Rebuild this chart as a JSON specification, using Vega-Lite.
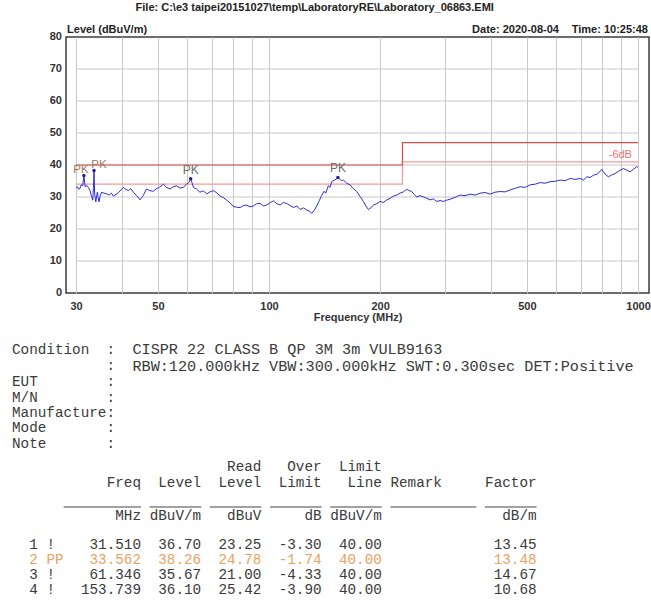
{
  "$schema": "https://vega.github.io/schema/vega-lite/v6.json",
  "width": 583,
  "height": 256,
  "autosize": {"type": "none"},
  "padding": {"left": 66, "top": 37, "right": 2, "bottom": 313},
  "background": "white",
  "config": {"view": {"stroke": "#3c3c3c", "strokeWidth": 1.5}, "font": "Liberation Sans"},
  "datasets": {
    "hgrid": [{"level": 10}, {"level": 20}, {"level": 30}, {"level": 40}, {"level": 50}, {"level": 60}, {"level": 70}],
    "limit": [{"freq": 30, "level": 40}, {"freq": 230, "level": 47}, {"freq": 1000, "level": 47}],
    "margin": [{"freq": 30, "level": 34}, {"freq": 230, "level": 41}, {"freq": 1000, "level": 41}],
    "trace": [
      {"freq": 30.0, "level": 33.0}, {"freq": 30.24, "level": 33.2}, {"freq": 30.5, "level": 32.4}, {"freq": 30.76, "level": 32.7},
      {"freq": 31.0, "level": 33.8}, {"freq": 31.28, "level": 33.5}, {"freq": 31.51, "level": 36.7}, {"freq": 31.75, "level": 33.2},
      {"freq": 32.1, "level": 33.6}, {"freq": 32.4, "level": 33.0}, {"freq": 32.74, "level": 32.0}, {"freq": 33.0, "level": 30.5},
      {"freq": 33.3, "level": 29.0}, {"freq": 33.45, "level": 33.0}, {"freq": 33.562, "level": 38.26}, {"freq": 33.7, "level": 31.0},
      {"freq": 33.93, "level": 28.5}, {"freq": 34.1, "level": 30.0}, {"freq": 34.27, "level": 31.5}, {"freq": 34.45, "level": 29.8},
      {"freq": 34.62, "level": 28.5}, {"freq": 34.9, "level": 30.5}, {"freq": 35.21, "level": 31.5}, {"freq": 35.7, "level": 31.2},
      {"freq": 36.33, "level": 31.0}, {"freq": 36.9, "level": 30.6}, {"freq": 37.4, "level": 31.2}, {"freq": 37.86, "level": 30.3},
      {"freq": 38.5, "level": 30.8}, {"freq": 39.06, "level": 31.3}, {"freq": 39.7, "level": 32.2}, {"freq": 40.31, "level": 33.0},
      {"freq": 40.9, "level": 32.4}, {"freq": 41.59, "level": 32.0}, {"freq": 42.2, "level": 32.6}, {"freq": 42.9, "level": 31.5},
      {"freq": 43.8, "level": 30.4}, {"freq": 44.73, "level": 29.1}, {"freq": 45.2, "level": 29.8}, {"freq": 45.67, "level": 30.5},
      {"freq": 46.1, "level": 31.6}, {"freq": 46.62, "level": 32.5}, {"freq": 47.5, "level": 32.0}, {"freq": 48.6, "level": 31.8},
      {"freq": 49.5, "level": 32.6}, {"freq": 50.5, "level": 33.0}, {"freq": 51.74, "level": 34.0}, {"freq": 52.8, "level": 33.0},
      {"freq": 53.9, "level": 32.5}, {"freq": 55.0, "level": 33.2}, {"freq": 56.2, "level": 33.5}, {"freq": 57.4, "level": 32.8},
      {"freq": 58.6, "level": 33.0}, {"freq": 59.8, "level": 34.0}, {"freq": 60.6, "level": 34.5}, {"freq": 61.346, "level": 35.67},
      {"freq": 62.0, "level": 34.2}, {"freq": 62.4, "level": 33.0}, {"freq": 63.6, "level": 32.5}, {"freq": 65.0, "level": 31.5},
      {"freq": 66.4, "level": 31.9}, {"freq": 67.8, "level": 31.0}, {"freq": 69.2, "level": 31.6}, {"freq": 70.7, "level": 32.0},
      {"freq": 72.2, "level": 31.3}, {"freq": 73.7, "level": 30.3}, {"freq": 75.2, "level": 29.8}, {"freq": 76.8, "level": 29.0},
      {"freq": 78.4, "level": 28.2}, {"freq": 80.1, "level": 27.0}, {"freq": 81.8, "level": 26.8}, {"freq": 83.5, "level": 26.7},
      {"freq": 85.2, "level": 27.3}, {"freq": 87.0, "level": 27.5}, {"freq": 88.8, "level": 26.9}, {"freq": 90.7, "level": 27.2},
      {"freq": 92.6, "level": 27.9}, {"freq": 94.6, "level": 28.0}, {"freq": 96.6, "level": 27.2}, {"freq": 98.6, "level": 27.5},
      {"freq": 100.7, "level": 28.2}, {"freq": 102.8, "level": 28.8}, {"freq": 105.0, "level": 27.9}, {"freq": 107.2, "level": 27.5},
      {"freq": 109.4, "level": 28.3}, {"freq": 111.7, "level": 28.0}, {"freq": 114.1, "level": 27.3}, {"freq": 116.5, "level": 26.7},
      {"freq": 119.0, "level": 27.2}, {"freq": 121.4, "level": 26.1}, {"freq": 124.0, "level": 26.6}, {"freq": 126.6, "level": 25.9},
      {"freq": 128.6, "level": 25.6}, {"freq": 130.6, "level": 24.9}, {"freq": 132.6, "level": 25.8}, {"freq": 134.7, "level": 27.2},
      {"freq": 136.8, "level": 28.8}, {"freq": 139.0, "level": 30.5}, {"freq": 141.0, "level": 31.8}, {"freq": 142.5, "level": 31.2},
      {"freq": 144.8, "level": 33.5}, {"freq": 146.4, "level": 33.0}, {"freq": 147.9, "level": 34.8}, {"freq": 150.5, "level": 35.3},
      {"freq": 152.5, "level": 35.6}, {"freq": 153.739, "level": 36.1}, {"freq": 155.5, "level": 35.6}, {"freq": 157.3, "level": 35.1},
      {"freq": 159.1, "level": 35.3}, {"freq": 162.4, "level": 34.3}, {"freq": 165.8, "level": 33.8}, {"freq": 169.3, "level": 32.6},
      {"freq": 172.9, "level": 31.7}, {"freq": 176.5, "level": 30.2}, {"freq": 180.2, "level": 28.6}, {"freq": 183.0, "level": 27.2},
      {"freq": 185.9, "level": 26.1}, {"freq": 188.8, "level": 26.6}, {"freq": 191.8, "level": 27.5}, {"freq": 195.9, "level": 27.9},
      {"freq": 200.0, "level": 28.6}, {"freq": 204.2, "level": 28.3}, {"freq": 208.5, "level": 29.1}, {"freq": 212.9, "level": 29.6},
      {"freq": 217.3, "level": 30.3}, {"freq": 221.9, "level": 30.6}, {"freq": 226.5, "level": 31.2}, {"freq": 231.3, "level": 31.6},
      {"freq": 236.2, "level": 32.4}, {"freq": 239.9, "level": 32.0}, {"freq": 243.7, "level": 31.7}, {"freq": 247.5, "level": 30.8},
      {"freq": 251.4, "level": 30.0}, {"freq": 256.7, "level": 30.4}, {"freq": 262.1, "level": 30.0}, {"freq": 267.6, "level": 29.6},
      {"freq": 273.2, "level": 29.1}, {"freq": 279.0, "level": 29.4}, {"freq": 284.8, "level": 28.6}, {"freq": 290.8, "level": 28.9},
      {"freq": 296.9, "level": 28.6}, {"freq": 303.1, "level": 29.0}, {"freq": 309.5, "level": 29.3}, {"freq": 319.3, "level": 29.9},
      {"freq": 329.4, "level": 30.6}, {"freq": 339.8, "level": 30.4}, {"freq": 350.6, "level": 30.9}, {"freq": 361.7, "level": 30.6},
      {"freq": 373.2, "level": 31.2}, {"freq": 385.0, "level": 31.4}, {"freq": 397.3, "level": 30.9}, {"freq": 409.8, "level": 31.5},
      {"freq": 422.9, "level": 31.7}, {"freq": 436.3, "level": 31.6}, {"freq": 450.2, "level": 32.2}, {"freq": 464.5, "level": 32.7},
      {"freq": 479.2, "level": 33.2}, {"freq": 494.4, "level": 33.0}, {"freq": 510.1, "level": 33.8}, {"freq": 526.2, "level": 34.0},
      {"freq": 542.9, "level": 34.5}, {"freq": 560.1, "level": 34.3}, {"freq": 577.9, "level": 34.8}, {"freq": 596.2, "level": 34.9},
      {"freq": 615.1, "level": 35.3}, {"freq": 634.6, "level": 35.1}, {"freq": 654.7, "level": 35.8}, {"freq": 675.4, "level": 35.5},
      {"freq": 696.9, "level": 35.8}, {"freq": 711.3, "level": 35.3}, {"freq": 726.2, "level": 36.3}, {"freq": 741.4, "level": 36.1},
      {"freq": 756.9, "level": 36.8}, {"freq": 777.0, "level": 37.2}, {"freq": 797.4, "level": 38.6}, {"freq": 814.0, "level": 37.2},
      {"freq": 831.2, "level": 36.3}, {"freq": 848.6, "level": 36.9}, {"freq": 866.4, "level": 37.3}, {"freq": 889.3, "level": 38.2},
      {"freq": 912.8, "level": 38.9}, {"freq": 932.0, "level": 38.4}, {"freq": 951.5, "level": 37.9}, {"freq": 971.5, "level": 38.6},
      {"freq": 992.0, "level": 39.5}, {"freq": 1000.0, "level": 39.3}
    ],
    "peaks": [
      {"freq": 31.51, "level": 36.70, "label": "PK"},
      {"freq": 33.562, "level": 38.26, "label": "PK"},
      {"freq": 61.346, "level": 35.67, "label": "PK"},
      {"freq": 153.739, "level": 36.10, "label": "PK"}
    ],
    "yticks": [{"level": 0}, {"level": 10}, {"level": 20}, {"level": 30}, {"level": 40}, {"level": 50}, {"level": 60}, {"level": 70}, {"level": 80}],
    "headL": [
      {"line": -20.9, "col": 6.4, "text": "Level (dBuV/m)"}
    ],
    "headC": [
      {"line": -22.35, "col": 35.2, "text": "File: C:\\e3 taipei20151027\\temp\\LaboratoryRE\\Laboratory_06863.EMI"}
    ],
    "headR": [
      {"line": -20.9, "col": 63.6, "text": "Date: 2020-08-04"},
      {"line": -20.9, "col": 73.95, "text": "Time: 10:25:48"}
    ],
    "cond": [
      {"line": -0.05, "col": 14, "text": "CISPR 22 CLASS B QP 3M 3m VULB9163"},
      {"line": 1.07, "col": 14, "text": "RBW:120.000kHz VBW:300.000kHz SWT:0.300sec DET:Positive"}
    ],
    "monoL": [
      {"line": 0, "col": 0, "text": "Condition"}, {"line": 0, "col": 11, "text": ":"},
      {"line": 1.05, "col": 11, "text": ":"},
      {"line": 2.09, "col": 0, "text": "EUT"}, {"line": 2.09, "col": 11, "text": ":"},
      {"line": 3.14, "col": 0, "text": "M/N"}, {"line": 3.14, "col": 11, "text": ":"},
      {"line": 4.12, "col": 0, "text": "Manufacture:"},
      {"line": 5.1, "col": 0, "text": "Mode"}, {"line": 5.1, "col": 11, "text": ":"},
      {"line": 6.14, "col": 0, "text": "Note"}, {"line": 6.14, "col": 11, "text": ":"},
      {"line": 8.69, "col": 44, "text": "Remark"},
      {"line": 12.75, "col": 2, "text": "1"}, {"line": 12.75, "col": 4, "text": "!"},
      {"line": 13.73, "col": 2, "text": "2"}, {"line": 13.73, "col": 4, "text": "PP"},
      {"line": 14.71, "col": 2, "text": "3"}, {"line": 14.71, "col": 4, "text": "!"},
      {"line": 15.69, "col": 2, "text": "4"}, {"line": 15.69, "col": 4, "text": "!"}
    ],
    "monoR": [
      {"line": 7.65, "col": 29, "text": "Read"}, {"line": 7.65, "col": 36, "text": "Over"}, {"line": 7.65, "col": 43, "text": "Limit"},
      {"line": 8.69, "col": 15, "text": "Freq"}, {"line": 8.69, "col": 22, "text": "Level"}, {"line": 8.69, "col": 29, "text": "Level"},
      {"line": 8.69, "col": 36, "text": "Limit"}, {"line": 8.69, "col": 43, "text": "Line"}, {"line": 8.69, "col": 61, "text": "Factor"},
      {"line": 10.85, "col": 15, "text": "MHz"}, {"line": 10.85, "col": 22, "text": "dBuV/m"}, {"line": 10.85, "col": 29, "text": "dBuV"},
      {"line": 10.85, "col": 36, "text": "dB"}, {"line": 10.85, "col": 43, "text": "dBuV/m"}, {"line": 10.85, "col": 61, "text": "dB/m"},
      {"line": 12.75, "col": 15, "text": "31.510"}, {"line": 12.75, "col": 22, "text": "36.70"}, {"line": 12.75, "col": 29, "text": "23.25"},
      {"line": 12.75, "col": 36, "text": "-3.30"}, {"line": 12.75, "col": 43, "text": "40.00"}, {"line": 12.75, "col": 61, "text": "13.45"},
      {"line": 13.73, "col": 15, "text": "33.562"}, {"line": 13.73, "col": 22, "text": "38.26"}, {"line": 13.73, "col": 29, "text": "24.78"},
      {"line": 13.73, "col": 36, "text": "-1.74"}, {"line": 13.73, "col": 43, "text": "40.00"}, {"line": 13.73, "col": 61, "text": "13.48"},
      {"line": 14.71, "col": 15, "text": "61.346"}, {"line": 14.71, "col": 22, "text": "35.67"}, {"line": 14.71, "col": 29, "text": "21.00"},
      {"line": 14.71, "col": 36, "text": "-4.33"}, {"line": 14.71, "col": 43, "text": "40.00"}, {"line": 14.71, "col": 61, "text": "14.67"},
      {"line": 15.69, "col": 15, "text": "153.739"}, {"line": 15.69, "col": 22, "text": "36.10"}, {"line": 15.69, "col": 29, "text": "25.42"},
      {"line": 15.69, "col": 36, "text": "-3.90"}, {"line": 15.69, "col": 43, "text": "40.00"}, {"line": 15.69, "col": 61, "text": "10.68"}
    ],
    "underlines": [
      {"line": 10.26, "col": 6, "col2": 15}, {"line": 10.26, "col": 16, "col2": 22}, {"line": 10.26, "col": 23, "col2": 29},
      {"line": 10.26, "col": 30, "col2": 36}, {"line": 10.26, "col": 37, "col2": 43}, {"line": 10.26, "col": 44, "col2": 54},
      {"line": 10.26, "col": 55, "col2": 61}
    ]
  },
  "layer": [
    {
      "layer": [
        {
          "data": {"name": "hgrid"},
          "mark": {"type": "rule", "color": "#c8c8c8", "strokeWidth": 1},
          "encoding": {
            "x": {
              "datum": 30, "type": "quantitative",
              "scale": {"type": "log", "domain": [28.18, 1071], "nice": false},
              "axis": {
                "values": [30, 40, 50, 60, 70, 80, 90, 100, 200, 300, 400, 500, 600, 700, 800, 900, 1000],
                "format": "d",
                "labelExpr": "indexof([30,50,100,200,500,1000], datum.value) >= 0 ? datum.label : ''",
                "grid": true, "gridColor": "#c8c8c8", "gridWidth": 1,
                "ticks": false, "domain": false,
                "labelFont": "Liberation Sans", "labelFontWeight": "bold", "labelFontSize": 11, "labelColor": "#333333",
                "labelPadding": 7, "labelOverlap": false, "labelFlush": false,
                "title": "Frequency (MHz)", "titleFont": "Liberation Sans", "titleFontSize": 11, "titleFontWeight": "bold",
                "titleColor": "#333333", "titlePadding": 0
              }
            },
            "x2": {"datum": 1000},
            "y": {
              "field": "level", "type": "quantitative",
              "scale": {"domain": [0, 80], "nice": false},
              "axis": null
            }
          }
        },
        {
          "data": {"name": "yticks"},
          "mark": {"type": "text", "font": "Liberation Sans", "fontWeight": "bold", "fontSize": 11, "align": "right", "baseline": "middle", "color": "#333333", "dx": -4},
          "encoding": {
            "x": {"datum": 28.18, "type": "quantitative"},
            "y": {"field": "level", "type": "quantitative", "axis": null},
            "text": {"field": "level", "type": "quantitative"}
          }
        },
        {
          "data": {"name": "margin"},
          "mark": {"type": "line", "interpolate": "step-after", "color": "#f29a9a", "strokeWidth": 1.2},
          "encoding": {
            "x": {"field": "freq", "type": "quantitative"},
            "y": {"field": "level", "type": "quantitative", "axis": null}
          }
        },
        {
          "data": {"name": "limit"},
          "mark": {"type": "line", "interpolate": "step-after", "color": "#e24a4a", "strokeWidth": 1.2},
          "encoding": {
            "x": {"field": "freq", "type": "quantitative"},
            "y": {"field": "level", "type": "quantitative", "axis": null}
          }
        },
        {
          "data": {"name": "trace"},
          "mark": {"type": "line", "color": "#2e2ed2", "strokeWidth": 1},
          "encoding": {
            "x": {"field": "freq", "type": "quantitative"},
            "y": {"field": "level", "type": "quantitative", "axis": null}
          }
        },
        {
          "data": {"name": "peaks"},
          "mark": {"type": "point", "filled": true, "size": 12, "color": "#1c1c9a", "opacity": 1},
          "encoding": {
            "x": {"field": "freq", "type": "quantitative"},
            "y": {"field": "level", "type": "quantitative", "axis": null}
          }
        },
        {
          "data": {"name": "peaks"},
          "transform": [{"filter": "datum.freq < 32"}],
          "mark": {"type": "text", "font": "Liberation Sans", "fontSize": 11.5, "align": "center", "baseline": "bottom", "dy": -1, "dx": -3, "color": "#9c7a58"},
          "encoding": {
            "x": {"field": "freq", "type": "quantitative"},
            "y": {"field": "level", "type": "quantitative", "axis": null},
            "text": {"field": "label"}
          }
        },
        {
          "data": {"name": "peaks"},
          "transform": [{"filter": "datum.freq > 33 && datum.freq < 34"}],
          "mark": {"type": "text", "font": "Liberation Sans", "fontSize": 11.5, "align": "center", "baseline": "bottom", "dy": -1, "dx": 5, "color": "#9c7a58"},
          "encoding": {
            "x": {"field": "freq", "type": "quantitative"},
            "y": {"field": "level", "type": "quantitative", "axis": null},
            "text": {"field": "label"}
          }
        },
        {
          "data": {"name": "peaks"},
          "transform": [{"filter": "datum.freq > 40"}],
          "mark": {"type": "text", "font": "Liberation Sans", "fontSize": 12, "align": "center", "baseline": "bottom", "dy": -2, "color": "#6e6e6e"},
          "encoding": {
            "x": {"field": "freq", "type": "quantitative"},
            "y": {"field": "level", "type": "quantitative", "axis": null},
            "text": {"field": "label"}
          }
        },
        {
          "data": {"values": [{"label": "-6dB"}]},
          "mark": {"type": "text", "font": "Liberation Sans", "fontSize": 11, "align": "right", "baseline": "middle", "color": "#f07070"},
          "encoding": {
            "x": {"datum": 963, "type": "quantitative"},
            "y": {"datum": 43.1, "type": "quantitative", "axis": null},
            "text": {"field": "label"}
          }
        }
      ]
    },
    {
      "layer": [
        {
          "data": {"name": "underlines"},
          "mark": {"type": "rule", "color": "#444444", "strokeWidth": 1},
          "encoding": {
            "x": {"field": "col", "type": "quantitative", "scale": {"domain": [6.279, 74.07], "nice": false, "zero": false}, "axis": null},
            "x2": {"field": "col2"},
            "y": {"field": "line", "type": "quantitative", "scale": {"domain": [-20.458, -3.726], "nice": false, "zero": false, "reverse": true}, "axis": null}
          }
        },
        {
          "data": {"name": "cond"},
          "mark": {"type": "text", "font": "Liberation Mono", "fontSize": 15.2, "align": "left", "baseline": "middle", "color": "#3a3a3a"},
          "encoding": {
            "x": {"field": "col", "type": "quantitative", "scale": {"domain": [6.279, 74.07], "nice": false, "zero": false}, "axis": null},
            "y": {"field": "line", "type": "quantitative", "scale": {"domain": [-20.458, -3.726], "nice": false, "zero": false, "reverse": true}, "axis": null},
            "text": {"field": "text"}
          }
        },
        {
          "data": {"name": "monoL"},
          "mark": {"type": "text", "font": "Liberation Mono", "fontSize": 14.3, "align": "left", "baseline": "middle"},
          "encoding": {
            "x": {"field": "col", "type": "quantitative", "scale": {"domain": [6.279, 74.07], "nice": false, "zero": false}, "axis": null},
            "y": {"field": "line", "type": "quantitative", "scale": {"domain": [-20.458, -3.726], "nice": false, "zero": false, "reverse": true}, "axis": null},
            "text": {"field": "text"},
            "color": {"condition": {"test": "datum.line == 13.73", "value": "#eaa262"}, "value": "#3a3a3a"}
          }
        },
        {
          "data": {"name": "monoR"},
          "mark": {"type": "text", "font": "Liberation Mono", "fontSize": 14.3, "align": "right", "baseline": "middle"},
          "encoding": {
            "x": {"field": "col", "type": "quantitative", "scale": {"domain": [6.279, 74.07], "nice": false, "zero": false}, "axis": null},
            "y": {"field": "line", "type": "quantitative", "scale": {"domain": [-20.458, -3.726], "nice": false, "zero": false, "reverse": true}, "axis": null},
            "text": {"field": "text"},
            "color": {"condition": {"test": "datum.line == 13.73", "value": "#eaa262"}, "value": "#3a3a3a"}
          }
        },
        {
          "data": {"name": "headL"},
          "mark": {"type": "text", "font": "Liberation Sans", "fontSize": 11, "fontWeight": "bold", "align": "left", "baseline": "middle", "color": "#222222"},
          "encoding": {
            "x": {"field": "col", "type": "quantitative", "scale": {"domain": [6.279, 74.07], "nice": false, "zero": false}, "axis": null},
            "y": {"field": "line", "type": "quantitative", "scale": {"domain": [-20.458, -3.726], "nice": false, "zero": false, "reverse": true}, "axis": null},
            "text": {"field": "text"}
          }
        },
        {
          "data": {"name": "headC"},
          "mark": {"type": "text", "font": "Liberation Sans", "fontSize": 11, "fontWeight": "bold", "align": "center", "baseline": "middle", "color": "#222222"},
          "encoding": {
            "x": {"field": "col", "type": "quantitative", "scale": {"domain": [6.279, 74.07], "nice": false, "zero": false}, "axis": null},
            "y": {"field": "line", "type": "quantitative", "scale": {"domain": [-20.458, -3.726], "nice": false, "zero": false, "reverse": true}, "axis": null},
            "text": {"field": "text"}
          }
        },
        {
          "data": {"name": "headR"},
          "mark": {"type": "text", "font": "Liberation Sans", "fontSize": 11, "fontWeight": "bold", "align": "right", "baseline": "middle", "color": "#222222"},
          "encoding": {
            "x": {"field": "col", "type": "quantitative", "scale": {"domain": [6.279, 74.07], "nice": false, "zero": false}, "axis": null},
            "y": {"field": "line", "type": "quantitative", "scale": {"domain": [-20.458, -3.726], "nice": false, "zero": false, "reverse": true}, "axis": null},
            "text": {"field": "text"}
          }
        }
      ]
    }
  ],
  "resolve": {"scale": {"x": "independent", "y": "independent"}}
}
